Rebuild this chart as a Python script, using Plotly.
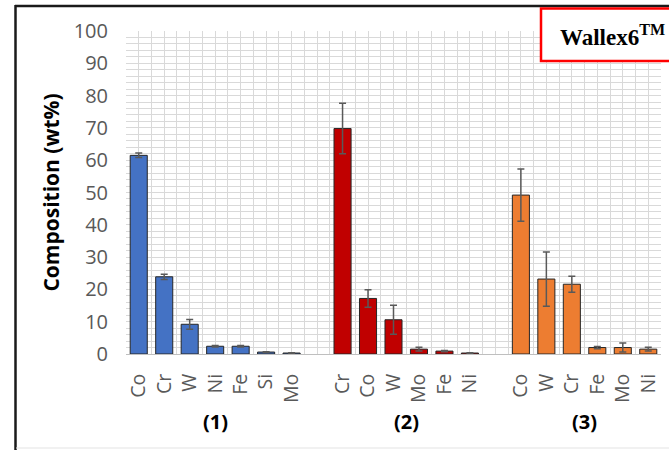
import plotly.graph_objects as go

# Element composition (wt%) for the three analysed regions
elements_1 = ["Co", "Cr", "W", "Ni", "Fe", "Si", "Mo"]
values_1 = [61.5, 23.9, 9.2, 2.4, 2.4, 0.6, 0.3]
errors_1 = [0.7, 0.8, 1.5, 0.2, 0.2, 0.1, 0.1]

elements_2 = ["Cr", "Co", "W", "Mo", "Fe", "Ni"]
values_2 = [69.8, 17.2, 10.6, 1.5, 0.9, 0.3]
errors_2 = [7.8, 2.7, 4.5, 0.6, 0.2, 0.1]

elements_3 = ["Co", "W", "Cr", "Fe", "Mo", "Ni"]
values_3 = [49.2, 23.2, 21.6, 2.0, 2.0, 1.5]
errors_3 = [8.1, 8.4, 2.5, 0.35, 1.4, 0.6]

group_labels = ["(1)", "(2)", "(3)"]
colors = ["#4472C4", "#C00000", "#ED7D31"]

# Category slots: one empty slot separates consecutive groups
pos_1 = list(range(0, len(elements_1)))
pos_2 = list(range(pos_1[-1] + 2, pos_1[-1] + 2 + len(elements_2)))
pos_3 = list(range(pos_2[-1] + 2, pos_2[-1] + 2 + len(elements_3)))

W, H = 669, 450
L, R, T, B = 126, 8, 31, 96
PW, PH = W - L - R, H - T - B


def px(x):
    return (x - L) / PW


def py(y):
    return (H - B - y) / PH


fig = go.Figure()
for pos, vals, errs, col in [
    (pos_1, values_1, errors_1, colors[0]),
    (pos_2, values_2, errors_2, colors[1]),
    (pos_3, values_3, errors_3, colors[2]),
]:
    fig.add_trace(go.Bar(
        x=pos, y=vals, width=0.67,
        marker=dict(color=col, line=dict(color="#262626", width=1)),
        error_y=dict(type="data", array=errs, color="#595959",
                     thickness=1.5, width=3.5),
        showlegend=False,
    ))

grid = "#d9d9d9"
fig.update_xaxes(
    range=[-0.5, pos_3[-1] + 0.5],
    tickvals=pos_1 + pos_2 + pos_3,
    ticktext=elements_1 + elements_2 + elements_3,
    tickangle=-90, ticks="", ticklabelstandoff=11,
    tickfont=dict(family="Open Sans", size=19.5, color="#595959"),
    showgrid=True, gridcolor=grid, gridwidth=1,
    minor=dict(tickmode="linear", tick0=-0.5, dtick=0.5, showgrid=True,
               gridcolor=grid, gridwidth=1),
    showline=True, linecolor="#bfbfbf", linewidth=1,
    zeroline=False, fixedrange=True,
)
fig.update_yaxes(
    range=[0, 100], dtick=10, ticks="", ticklabelstandoff=17,
    tickfont=dict(family="Open Sans", size=20, color="#595959"),
    showgrid=True, gridcolor=grid, gridwidth=1,
    minor=dict(dtick=2, showgrid=True, gridcolor=grid, gridwidth=1),
    zeroline=False, showline=False,
    title=dict(text="<b>Composition (wt%)</b>", standoff=8,
               font=dict(family="Open Sans", size=21, color="#000000")),
)

annotations = []
for lab, pos in zip(group_labels, [pos_1, pos_2, pos_3]):
    annotations.append(dict(
        x=(pos[0] + pos[-1]) / 2, xref="x", y=py(421), yref="paper",
        text="<b>%s</b>" % lab, showarrow=False,
        font=dict(family="Open Sans", size=20, color="#000000"),
        xanchor="center", yanchor="middle",
    ))
annotations.append(dict(
    x=px(558), xref="paper", y=py(35), yref="paper",
    text="<b>Wallex6<sup>TM</sup></b>", showarrow=False,
    font=dict(family="Liberation Serif", size=23, color="#000000"),
    xanchor="left", yanchor="middle",
))

shapes = [
    # frame around the figure
    dict(type="line", xref="paper", yref="paper", x0=px(15), x1=px(W + 5),
         y0=py(6), y1=py(6), line=dict(color="#1a1a1a", width=2.5), layer="above"),
    dict(type="line", xref="paper", yref="paper", x0=px(15.5), x1=px(15.5),
         y0=py(5), y1=py(H + 5), line=dict(color="#1a1a1a", width=2.5), layer="above"),
    dict(type="line", xref="paper", yref="paper", x0=px(16), x1=px(W + 5),
         y0=py(448), y1=py(448), line=dict(color="#e3e3e3", width=1), layer="above"),
    # label box
    dict(type="rect", xref="paper", yref="paper", x0=px(541), x1=px(W + 10),
         y0=py(61), y1=py(8.5), line=dict(color="#ff0000", width=2.5),
         fillcolor="#ffffff", layer="above"),
]

fig.update_layout(
    width=W, height=H,
    margin=dict(l=L, r=R, t=T, b=B),
    paper_bgcolor="#ffffff", plot_bgcolor="#ffffff",
    bargap=0.33,
    annotations=annotations, shapes=shapes,
)

fig.write_html("out.html")
